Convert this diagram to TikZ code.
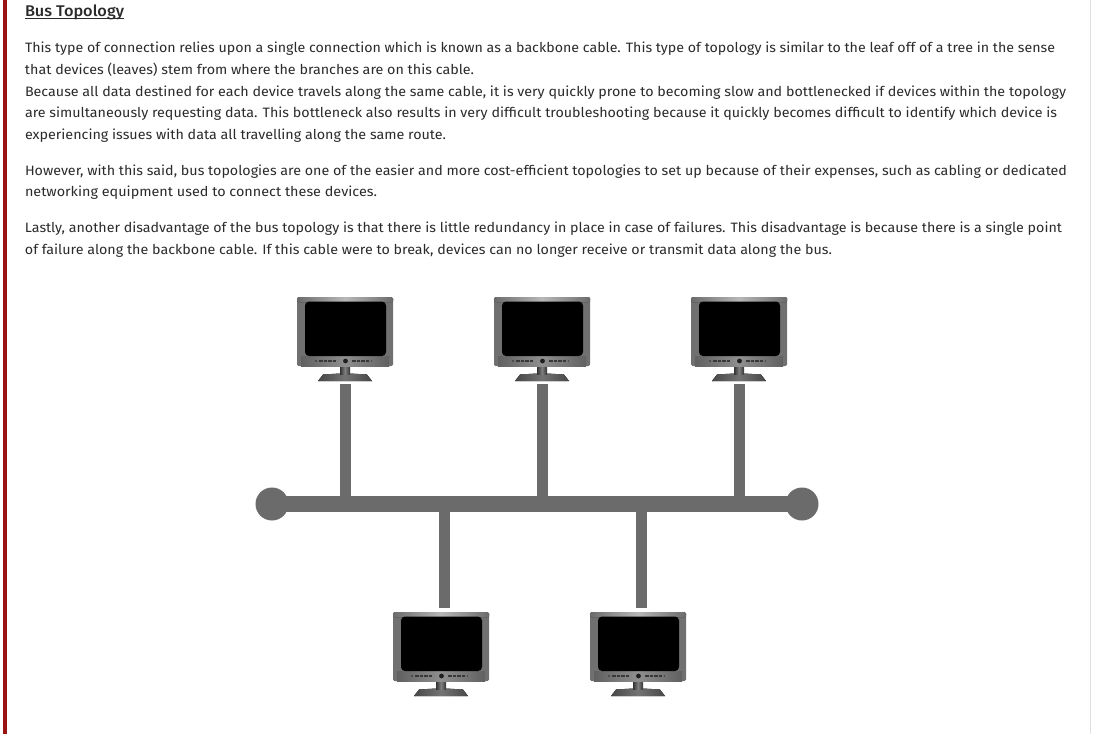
\documentclass[tikz,border=0pt]{standalone}
\usepackage{fontspec}
\usepackage{graphicx}
\setmainfont{Fira Sans}
\newfontfamily\titlefont{Fira Sans Medium}
\definecolor{txt}{HTML}{2B2B2B}
\definecolor{cablegrey}{HTML}{6B6B6B}
\definecolor{barred}{HTML}{9B1414}
\tikzset{
  textline/.style={anchor=base west,inner sep=0pt,outer sep=0pt,text=txt,font=\fontsize{13.6}{16}\selectfont},
  cable/.style={draw=cablegrey,line width=11.5pt},
  busline/.style={draw=cablegrey,line width=16pt},
  busend/.style={circle,fill=cablegrey,minimum size=33pt,inner sep=0pt},
  monitorbox/.style={rectangle,minimum width=96pt,minimum height=84pt,inner sep=0pt,outer sep=0pt}
}
\newcommand{\tline}[4]{\node[textline] (#1) at (25,#2) {\resizebox{#3pt}{\height}{\strut #4}};}
\newcommand{\monitor}[3]{%
  \node[monitorbox] (#1) at (#2,#3) {};
  \begin{scope}[shift={(#2,#3)}]
    % stand
    \fill[left color=black!72,right color=black!72,middle color=black!55] (-27,42) -- (-22,35.5) -- (-5,34.5) -- (5,34.5) -- (22,35.5) -- (27,42) -- cycle;
    \fill[left color=black!80,right color=black!80,middle color=black!50] (-5,27) rectangle (5,35.5);
    % body
    \fill[rounded corners=1.5pt,black!56] (-48,-42) rectangle (48,27);
    \fill[rounded corners=1.5pt,left color=black!58,right color=black!58,middle color=black!28] (-48,-42) rectangle (48,-37);
    \fill[left color=black!62,right color=black!62,middle color=black!44] (-44,17) rectangle (44,27);
    \fill[black,rounded corners=4pt] (-40,-37.5) rectangle (41,17);
    % buttons
    \fill[black!88] (0.5,22) circle (2.4);
    \foreach \bx in {-26,-21.5,-17,-12.5,7,11.5,16,20.5}
      \fill[black!78] (\bx,20.6) rectangle ++(3.6,2.8);
    \fill[black!70] (-30,21) rectangle ++(2,2);
    \fill[black!70] (25.5,21) rectangle ++(1.5,2);
  \end{scope}
}
\begin{document}
\begin{tikzpicture}[x=1pt,y=-1pt]
\useasboundingbox (0,0) rectangle (1095,734);
\fill[white] (0,0) rectangle (1095,734);
\fill[barred] (3,0) rectangle (6.5,734);
\fill[black!12] (1090,0) rectangle (1091,734);
\node[textline,font=\fontsize{15.5}{18}\titlefont] (title) at (25,16) {\resizebox{99pt}{\height}{\strut Bus Topology}};
\draw[txt,line width=1pt] (25,18.5) -- (124,18.5);
\tline{l1}{52}{1030}{This type of connection relies upon a single connection which is known as a backbone cable. This type of topology is similar to the leaf off of a tree in the sense}
\tline{l2}{74}{449}{that devices (leaves) stem from where the branches are on this cable.}
\tline{l3}{96}{1041}{Because all data destined for each device travels along the same cable, it is very quickly prone to becoming slow and bottlenecked if devices within the topology}
\tline{l4}{117}{1032}{are simultaneously requesting data. This bottleneck also results in very difficult troubleshooting because it quickly becomes difficult to identify which device is}
\tline{l5}{139}{421}{experiencing issues with data all travelling along the same route.}
\tline{l6}{175}{1042}{However, with this said, bus topologies are one of the easier and more cost-efficient topologies to set up because of their expenses, such as cabling or dedicated}
\tline{l7}{196}{352}{networking equipment used to connect these devices.}
\tline{l8}{232}{1037}{Lastly, another disadvantage of the bus topology is that there is little redundancy in place in case of failures. This disadvantage is because there is a single point}
\tline{l9}{254}{807}{of failure along the backbone cable. If this cable were to break, devices can no longer receive or transmit data along the bus.}
\node[busend] (busL) at (272,504) {};
\node[busend] (busR) at (802,504) {};
\draw[busline] (busL.center) -- (busR.center);
\monitor{m1}{345}{339}
\monitor{m2}{542}{339}
\monitor{m3}{739}{339}
\monitor{m4}{441}{654}
\monitor{m5}{638}{654}
\draw[cable] ([xshift=0.5pt,yshift=-3pt]m1.south) -- ([xshift=0.5pt]m1.south |- busL);
\draw[cable] ([xshift=0.5pt,yshift=-3pt]m2.south) -- ([xshift=0.5pt]m2.south |- busL);
\draw[cable] ([xshift=0.5pt,yshift=-3pt]m3.south) -- ([xshift=0.5pt]m3.south |- busL);
\draw[cable] ([xshift=3.5pt,yshift=4pt]m4.north) -- ([xshift=3.5pt]m4.north |- busL);
\draw[cable] ([xshift=3.5pt,yshift=4pt]m5.north) -- ([xshift=3.5pt]m5.north |- busL);
\end{tikzpicture}
\end{document}
